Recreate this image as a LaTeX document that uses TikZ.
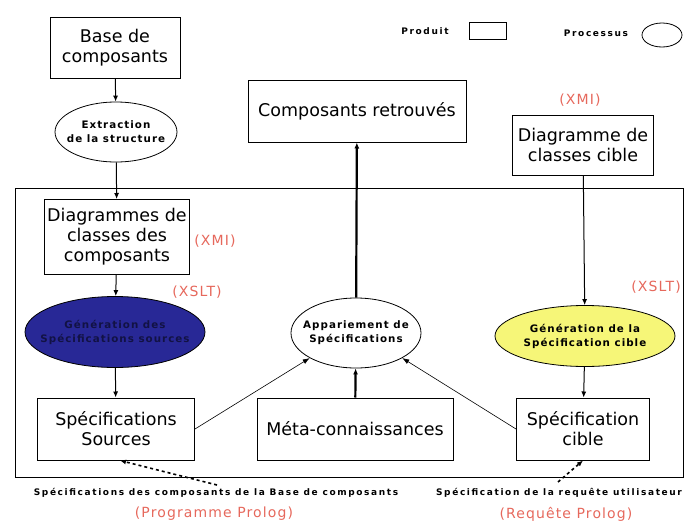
\documentclass[tikz,border=0pt]{standalone}
\usepackage{fontspec}
\setmainfont{DejaVu Sans}
\newfontfamily\tinyfont[LetterSpace=18]{DejaVu Sans}
\newfontfamily\ellfont[LetterSpace=10]{DejaVu Sans}
\newfontfamily\redfont[LetterSpace=8]{DejaVu Sans}
\usetikzlibrary{arrows.meta,shapes.geometric,positioning}
\definecolor{labred}{RGB}{230,104,92}
\definecolor{srcblue}{RGB}{40,40,150}
\definecolor{cibyellow}{RGB}{246,246,120}

\begin{document}
\begin{tikzpicture}[x=1pt, y=-1pt,
	produit/.style={draw, line width=1pt, align=center, inner sep=0pt,
		font=\fontsize{17.5}{20}\selectfont},
	processus/.style={draw, ellipse, line width=0.8pt, align=center,
		inner xsep=-22pt, inner ysep=-8pt,
		font=\ellfont\bfseries\fontsize{10.3}{14}\selectfont},
	fleche/.style={line width=1pt, -{Latex[length=6pt,width=5pt]}},
	grosse/.style={line width=2.2pt, -{Latex[length=6pt,width=5pt]}},
	fine/.style={line width=0.6pt, -{Latex[length=7pt,width=5pt]}},
	pointille/.style={line width=1.6pt, dashed, -{Latex[length=6pt,width=5pt]}},
	outil/.style={text=labred, inner sep=0pt, font=\redfont\fontsize{14}{16}\selectfont},
	legende/.style={inner sep=0pt, font=\tinyfont\bfseries\fontsize{9}{11}\selectfont}]

	\useasboundingbox (0,0) rectangle (686,525);

	% cadre de l'outil
	\draw[line width=1pt] (15,188) rectangle (683,477);

	% legende
	\node[legende] (lprod) at (425,31) {Produit};
	\node[draw, line width=1pt, minimum width=37pt, minimum height=17pt, inner sep=0pt] (lbox) at (488,31) {};
	\node[legende] (lproc) at (596,33) {Processus};
	\node[draw, ellipse, line width=0.8pt, minimum width=40pt, minimum height=24pt, inner sep=0pt] (lell) at (662,35) {};

	% partie gauche
	\node[produit, minimum width=130pt, minimum height=61pt] (base) at (115,48) {Base de\\composants};
	\node[processus, minimum width=122pt, minimum height=60pt] (extr) at (116,132) {Extraction\\de la structure};
	\node[produit, minimum width=145pt, minimum height=75pt] (diagc) at (117,237) {Diagrammes de\\classes des\\composants};
	\node[processus, fill=srcblue, text=black!55!srcblue, minimum width=180pt, minimum height=71pt] (gensrc) at (115,332) {G\'en\'eration des\\Sp\'ecifications sources};
	\node[produit, minimum width=157pt, minimum height=62pt] (specsrc) at (116,429) {Sp\'ecifications\\Sources};

	% partie centrale
	\node[produit, minimum width=218pt, minimum height=62pt] (retr) at (357,111) {Composants retrouv\'es};
	\node[processus, minimum width=130pt, minimum height=70pt] (appar) at (356,333) {Appariement de\\Sp\'ecifications};
	\node[produit, minimum width=196pt, minimum height=62pt] (meta) at (355,429) {M\'eta-connaissances};

	% partie droite
	\node[produit, minimum width=141pt, minimum height=60pt] (diagcib) at (583,145) {Diagramme de\\classes cible};
	\node[processus, fill=cibyellow, minimum width=180pt, minimum height=61pt] (gencib) at (585,336) {G\'en\'eration de la\\Sp\'ecification cible};
	\node[produit, minimum width=133pt, minimum height=62pt] (speccib) at (583,429) {Sp\'ecification\\cible};

	% langages
	\node[outil] (xmig) at (215,241) {(XMI)};
	\node[outil] (xsltg) at (197,292) {(XSLT)};
	\node[outil] (xmid) at (580,100) {(XMI)};
	\node[outil] (xsltd) at (656,287) {(XSLT)};

	% textes du bas
	\node[legende] (txtsrc) at (216,493) {Sp\'ecifications des composants de la Base de composants};
	\node[outil] (progsrc) at (214,514) {(Programme Prolog)};
	\node[legende] (txtcib) at (559,493) {Sp\'ecification de la requ\^ete utilisateur};
	\node[outil] (reqcib) at (566,514) {(Requ\^ete Prolog)};

	% fleches
	\draw[fleche] (base) -- (extr);
	\draw[fleche] (extr) -- (diagc);
	\draw[fleche] (diagc) -- (gensrc);
	\draw[fleche] (gensrc) -- (specsrc);
	\draw[fleche] (diagcib) -- (gencib);
	\draw[fleche] (gencib) -- (speccib);
	\draw[grosse] (meta) -- (appar);
	\draw[grosse] (appar) -- (retr);
	\draw[fine] (specsrc.east) -- (appar.south west);
	\draw[fine] (speccib.west) -- (appar.south east);

	\coordinate (psrc) at (217,485);
	\coordinate (pcib) at (558,482);
	\draw[pointille] (psrc) -- ([xshift=4pt]specsrc.south);
	\draw[pointille] (pcib) -- (speccib.south);

\end{tikzpicture}
\end{document}
